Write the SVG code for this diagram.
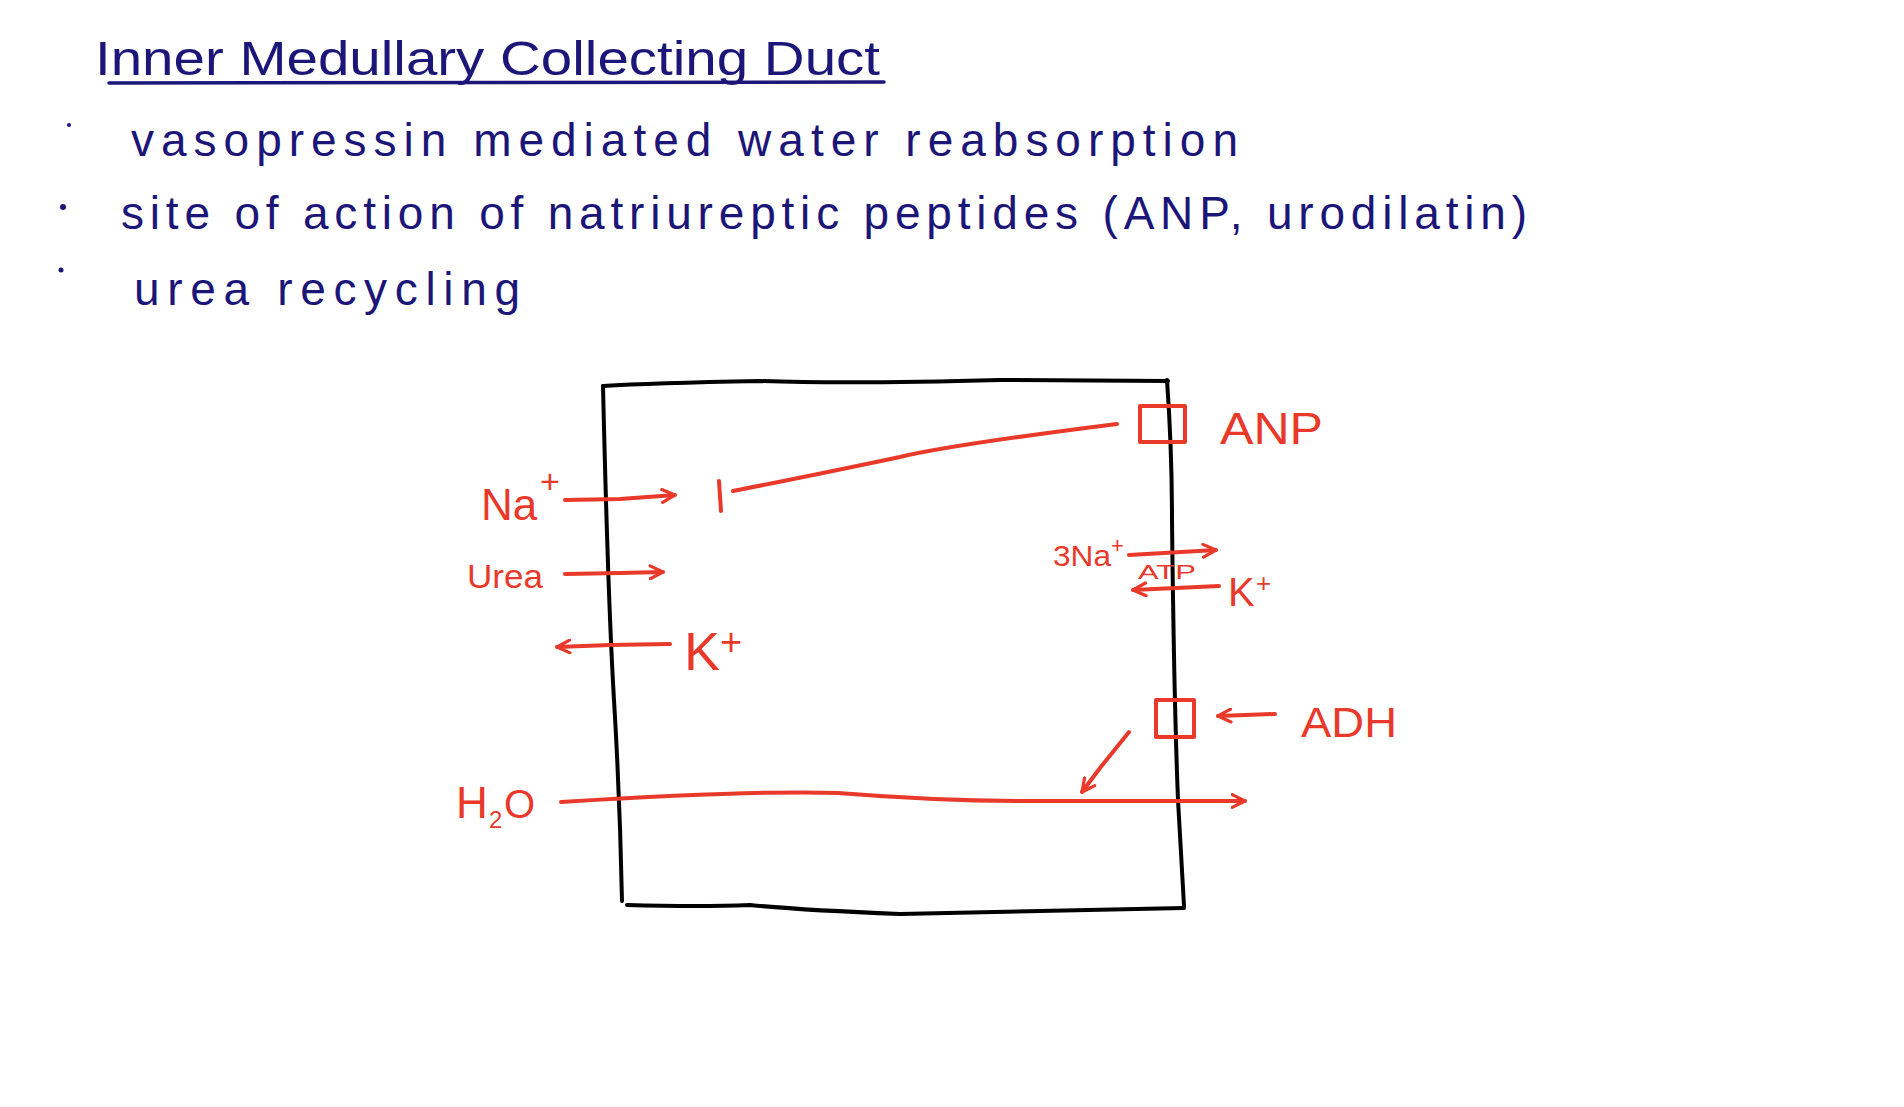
<svg xmlns="http://www.w3.org/2000/svg" width="1904" height="1107" viewBox="0 0 1904 1107">
<style>
.ink{fill:#1c1678;font-family:"Liberation Sans","DejaVu Sans",sans-serif}
.red{fill:#e8392a;font-family:"Liberation Sans","DejaVu Sans",sans-serif}
.rl{fill:none;stroke:#e8392a;stroke-width:4;stroke-linecap:round;stroke-linejoin:round}
.bl{fill:none;stroke:#000;stroke-width:4;stroke-linecap:round;stroke-linejoin:round}
</style>
<defs>
<marker id="ah" viewBox="0 0 10 10" refX="9" refY="5" markerWidth="4" markerHeight="4" orient="auto" markerUnits="strokeWidth">
<path d="M1,1 L9,5 L1,9" fill="none" stroke="#e8392a" stroke-width="2" stroke-linecap="round" stroke-linejoin="round"/>
</marker>
</defs>
<rect width="1904" height="1107" fill="#fff"/>

<g id="title">
<text class="ink" x="95" y="75" font-size="48" textLength="785" lengthAdjust="spacingAndGlyphs">Inner Medullary Collecting Duct</text>
<path d="M109,83 L884,82" fill="none" stroke="#1c1678" stroke-width="3.5" stroke-linecap="round"/>
</g>

<g id="bullets">
<circle cx="69" cy="125" r="2" fill="#1c1678"/>
<circle cx="63" cy="207" r="3" fill="#1c1678"/>
<circle cx="61" cy="270" r="2.5" fill="#1c1678"/>
<text class="ink" x="131" y="156" font-size="46" textLength="1107" lengthAdjust="spacing">vasopressin mediated water reabsorption</text>
<text class="ink" x="121" y="229" font-size="46" textLength="1406" lengthAdjust="spacing">site of action of natriureptic peptides (ANP, urodilatin)</text>
<text class="ink" x="134" y="305" font-size="46" textLength="386" lengthAdjust="spacing">urea recycling</text>
</g>

<g id="cell">
<path class="bl" d="M603,386 Q650,383 760,381 Q850,384 1000,380 L1168,381"/>
<path class="bl" d="M603,386 Q608,600 614,700 Q620,800 622,901"/>
<path class="bl" d="M1167,380 Q1172,450 1172,520 Q1174,700 1178,800 L1184,906"/>
<path class="bl" d="M627,905 Q700,907 750,905 Q800,910 900,914 Q1000,912 1184,908"/>
</g>

<g id="anp">
<rect class="rl" x="1140" y="406" width="45" height="36"/>
<text class="red" x="1220" y="444" font-size="44" textLength="103" lengthAdjust="spacingAndGlyphs">ANP</text>
</g>

<g id="enac">
<path class="rl" d="M719,481 L721,511"/>
</g>

<g id="na">
<text class="red" x="481" y="520" font-size="44">Na</text>
<text class="red" x="540" y="493" font-size="34">+</text>
</g>

<g id="urea">
<text class="red" x="467" y="588" font-size="34" textLength="76" lengthAdjust="spacingAndGlyphs">Urea</text>
</g>

<g id="k-left">
<text class="red" x="684" y="670" font-size="54">K</text>
<text class="red" x="720" y="655" font-size="38">+</text>
</g>

<g id="pump">
<text class="red" x="1053" y="566" font-size="30" textLength="58" lengthAdjust="spacingAndGlyphs">3Na</text>
<text class="red" x="1111" y="553" font-size="22">+</text>
<text class="red" x="1138" y="579" font-size="20" textLength="58" lengthAdjust="spacingAndGlyphs">ATP</text>
<text class="red" x="1228" y="606" font-size="40">K</text>
<text class="red" x="1256" y="592" font-size="26">+</text>
</g>

<g id="adh">
<rect class="rl" x="1156" y="700" width="38" height="37"/>
<text class="red" x="1301" y="737" font-size="42" textLength="96" lengthAdjust="spacingAndGlyphs">ADH</text>
</g>

<g id="h2o">
<text class="red" x="456" y="818" font-size="44">H</text>
<text class="red" x="489" y="828" font-size="24">2</text>
<text class="red" x="504" y="818" font-size="40">O</text>
</g>

<g id="connectors">
<path class="rl" d="M565,500 L620,499 L675,495" marker-end="url(#ah)"/>
<path class="rl" d="M565,574 L620,573 L663,572" marker-end="url(#ah)"/>
<path class="rl" d="M670,644 L610,645 L557,647" marker-end="url(#ah)"/>
<path class="rl" d="M1117,424 Q950,445 900,457 Q800,478 733,491"/>
<path class="rl" d="M1129,555 L1216,550" marker-end="url(#ah)"/>
<path class="rl" d="M1219,586 L1133,590" marker-end="url(#ah)"/>
<path class="rl" d="M1275,714 L1218,716" marker-end="url(#ah)"/>
<path class="rl" d="M1129,732 L1100,768 L1082,792" stroke-width="6" marker-end="url(#ah)"/>
<path class="rl" d="M561,802 Q760,790 838,793 Q950,802 1050,801 L1245,801" marker-end="url(#ah)"/>
</g>
</svg>
